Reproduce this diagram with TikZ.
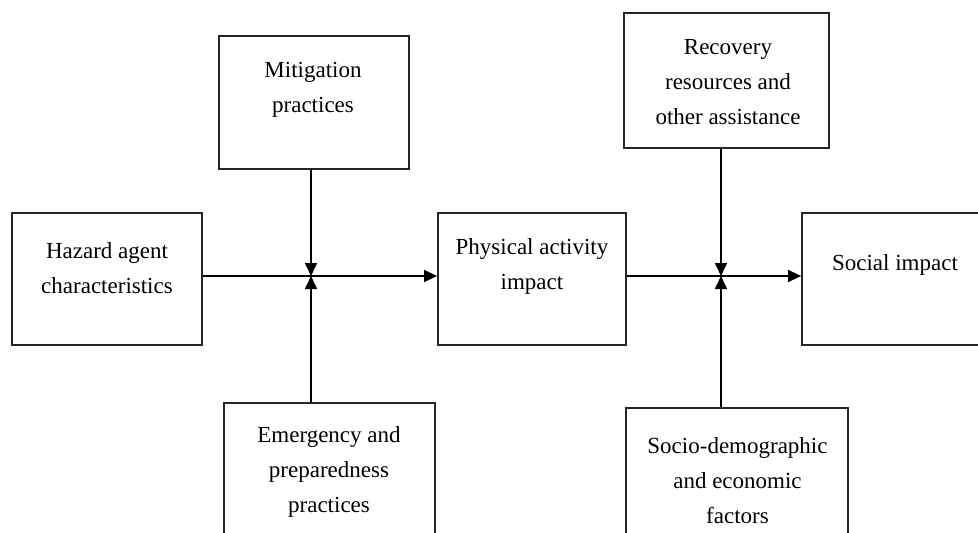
\documentclass[tikz,border=0pt]{standalone}
\usepackage{fontspec}
\setmainfont{Liberation Serif}
\usetikzlibrary{arrows.meta}
\begin{document}
\begin{tikzpicture}[x=1pt,y=-1pt,
  box/.style={draw=black!85, line width=1.8pt, rectangle, inner sep=0pt},
  txt/.style={align=center, inner sep=0pt, font=\fontsize{23}{35}\selectfont},
  conn/.style={line width=1.5pt, black},
  arr/.style={conn, -{Triangle[length=13pt,width=12pt]}}]
\useasboundingbox (0,0) rectangle (978,533);
\clip (0,0) rectangle (978,533);
\fill[white] (0,0) rectangle (978,533);
% boxes
\node[box, minimum width=190pt, minimum height=132pt] (haz) at (107,279) {};
\node[box, minimum width=190pt, minimum height=133pt] (mit) at (314,102.5) {};
\node[box, minimum width=211pt, minimum height=140pt] (eme) at (329.5,473) {};
\node[box, minimum width=188pt, minimum height=132pt] (phy) at (532,279) {};
\node[box, minimum width=190pt, minimum height=132pt] (soc) at (897,279) {};
\node[box, minimum width=205pt, minimum height=135pt] (rec) at (726.5,80.5) {};
\node[box, minimum width=222pt, minimum height=140pt] (sde) at (737,478) {};
% texts
\node[txt] (hazT) at (107,268) {Hazard agent\\characteristics};
\node[txt] (mitT) at (313,90) {Mitigation\\practices};
\node[txt] (emeT) at (329,472) {Emergency and\\preparedness\\practices};
\node[txt] (phyT) at (532,266) {Physical activity\\impact};
\node[txt] (socT) at (895,265) {Social impact};
\node[txt] (recT) at (728,82) {Recovery\\resources and\\other assistance};
\node[txt] (sdeT) at (737.5,481) {Socio-demographic\\and economic\\factors};
% junctions
\coordinate (j1) at (311,276);
\coordinate (j2) at (721,276);
% connectors
\draw[arr] (haz.east |- j1) -- (phy.west |- j1);
\draw[arr] (phy.east |- j2) -- (soc.west |- j2);
\draw[arr] (mit.south -| j1) -- (j1);
\draw[arr] (eme.north -| j1) -- (j1);
\draw[arr] (rec.south -| j2) -- (j2);
\draw[arr] (sde.north -| j2) -- (j2);
\end{tikzpicture}
\end{document}
